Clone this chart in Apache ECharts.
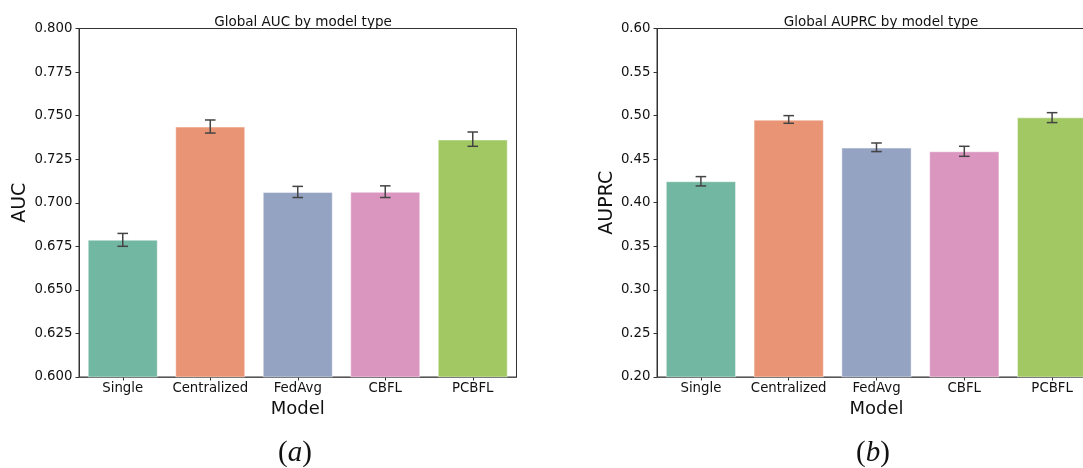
<!DOCTYPE html>
<html>
<head>
<meta charset="utf-8">
<script src="https://cdn.jsdelivr.net/npm/echarts@6/dist/echarts.min.js"></script>
<style>
html,body{margin:0;padding:0;background:#fff;}
#chart{width:1083px;height:468px;}
</style>
</head>
<body>
<div id="chart"></div>
<script>
// ---- data ----
const models = ['Single', 'Centralized', 'FedAvg', 'CBFL', 'PCBFL'];
const aucMean = [0.6788, 0.7437, 0.7062, 0.7063, 0.7363];
const aucLow  = [0.6750, 0.7400, 0.7030, 0.7030, 0.7324];
const aucHigh = [0.6824, 0.7475, 0.7094, 0.7097, 0.7406];
const auprcMean = [0.4247, 0.4954, 0.4633, 0.4591, 0.4980];
const auprcLow  = [0.4193, 0.4912, 0.4587, 0.4533, 0.4920];
const auprcHigh = [0.4300, 0.5000, 0.4686, 0.4648, 0.5034];
const barColors = ['#72b7a1', '#e99575', '#95a3c3', '#db96c0', '#a2c864'];

const FONT = 'DejaVu Sans';
const chart = echarts.init(document.getElementById('chart'), null, {renderer: 'canvas'});

function errSeries(xi, low, high) {
  return {
    type: 'custom',
    xAxisIndex: xi, yAxisIndex: xi,
    z: 5,
    encode: {x: 0, y: [1, 2]},
    data: models.map((m, i) => [i, low[i], high[i]]),
    renderItem: function (params, api) {
      const x = api.value(0);
      const p1 = api.coord([x, api.value(1)]);
      const p2 = api.coord([x, api.value(2)]);
      const hw = 5.3;
      const st = {stroke: '#444', lineWidth: 1.5};
      return {
        type: 'group',
        children: [
          {type: 'line', shape: {x1: p1[0], y1: p1[1], x2: p2[0], y2: p2[1]}, style: st},
          {type: 'line', shape: {x1: p1[0] - hw, y1: p1[1], x2: p1[0] + hw, y2: p1[1]}, style: st},
          {type: 'line', shape: {x1: p2[0] - hw, y1: p2[1], x2: p2[0] + hw, y2: p2[1]}, style: st}
        ]
      };
    }
  };
}

function barSeries(xi, vals) {
  return {
    type: 'bar',
    xAxisIndex: xi, yAxisIndex: xi,
    barCategoryGap: '20%',
    data: vals.map((v, i) => ({value: v, itemStyle: {color: barColors[i]}})),
    itemStyle: {borderColor: 'rgba(255,255,255,0.45)', borderWidth: 1}
  };
}

function xAxisDef(gi) {
  return {
    type: 'category', gridIndex: gi, data: models,
    name: 'Model', nameLocation: 'middle', nameGap: 21,
    nameTextStyle: {fontFamily: FONT, fontSize: 18, color: '#111'},
    axisLine: {show: true, lineStyle: {color: '#555', width: 1}},
    axisTick: {show: true, alignWithLabel: true, length: 3.5, lineStyle: {color: '#333'}},
    axisLabel: {fontFamily: FONT, fontSize: 13.3, color: '#111', margin: 5, interval: 0},
    splitLine: {show: false}
  };
}

function yAxisDef(gi, name, min, max, interval, dec, gap) {
  return {
    type: 'value', gridIndex: gi, min: min, max: max, interval: interval,
    name: name, nameLocation: 'middle', nameGap: gap, nameRotate: 90,
    nameTextStyle: {fontFamily: FONT, fontSize: 19, color: '#111'},
    axisLine: {show: true, lineStyle: {color: '#333', width: 1}},
    axisTick: {show: true, length: 3.5, lineStyle: {color: '#333'}},
    axisLabel: {fontFamily: FONT, fontSize: 13.3, color: '#111', margin: 6.5,
      formatter: v => v.toFixed(dec)},
    splitLine: {show: false}
  };
}

const option = {
  backgroundColor: '#fff',
  animation: false,
  title: [
    {text: 'Global AUC by model type', left: 298, top: 10, textAlign: 'center',
     textStyle: {fontFamily: FONT, fontSize: 13.5, fontWeight: 'normal', color: '#111'}},
    {text: 'Global AUPRC by model type', left: 876, top: 10, textAlign: 'center',
     textStyle: {fontFamily: FONT, fontSize: 13.5, fontWeight: 'normal', color: '#111'}}
  ],
  grid: [
    {left: 79, width: 437.5, top: 28.5, height: 348.5, show: true, borderColor: '#333', borderWidth: 1,
     backgroundColor: 'transparent', containLabel: false, outerBoundsMode: 'none'},
    {left: 657, width: 439, top: 28.5, height: 348.5, show: true, borderColor: '#333', borderWidth: 1,
     backgroundColor: 'transparent', containLabel: false, outerBoundsMode: 'none'}
  ],
  xAxis: [xAxisDef(0), xAxisDef(1)],
  yAxis: [
    yAxisDef(0, 'AUC', 0.6, 0.8, 0.025, 3, 49),
    yAxisDef(1, 'AUPRC', 0.2, 0.6, 0.05, 2, 40)
  ],
  series: [
    barSeries(0, aucMean), errSeries(0, aucLow, aucHigh),
    barSeries(1, auprcMean), errSeries(1, auprcLow, auprcHigh)
  ],
  graphic: [
    {type: 'text', left: 278, top: 439, style: {
      text: '{p|(}{i|a}{p|)}',
      rich: {
        p: {fontFamily: 'Liberation Serif', fontSize: 29, fill: '#111'},
        i: {fontFamily: 'Liberation Serif', fontStyle: 'italic', fontSize: 29, fill: '#111'}
      }}},
    {type: 'text', left: 856, top: 439, style: {
      text: '{p|(}{i|b}{p|)}',
      rich: {
        p: {fontFamily: 'Liberation Serif', fontSize: 29, fill: '#111'},
        i: {fontFamily: 'Liberation Serif', fontStyle: 'italic', fontSize: 29, fill: '#111'}
      }}}
  ]
};
chart.setOption(option);
</script>
</body>
</html>
